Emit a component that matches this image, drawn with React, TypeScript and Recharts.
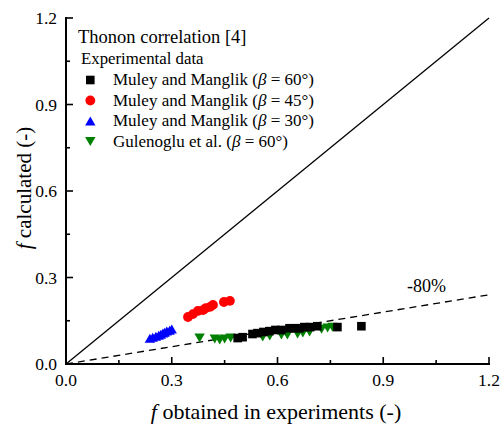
import React from 'react';
import { ScatterChart, Scatter, XAxis, YAxis, ReferenceLine, ReferenceDot } from 'recharts';

const W = 500;
const H = 426;
const FONT = 'Liberation Serif';

// Axis ticks: majors carry labels, minors sit halfway between them
const axisTicks = [0, 0.15, 0.3, 0.45, 0.6, 0.75, 0.9, 1.05, 1.2];
const majorTicks = [0, 0.3, 0.6, 0.9, 1.2];

// Experimental friction factors: f measured (x) vs f from the Thonon correlation (y)
const muley60 = [
  { x: 0.487, y: 0.09 }, { x: 0.501, y: 0.093 }, { x: 0.529, y: 0.104 }, { x: 0.543, y: 0.107 },
  { x: 0.56, y: 0.111 }, { x: 0.577, y: 0.114 }, { x: 0.594, y: 0.118 }, { x: 0.611, y: 0.118 },
  { x: 0.634, y: 0.124 }, { x: 0.651, y: 0.124 }, { x: 0.662, y: 0.124 }, { x: 0.676, y: 0.128 },
  { x: 0.693, y: 0.128 }, { x: 0.713, y: 0.131 }, { x: 0.77, y: 0.128 }, { x: 0.838, y: 0.131 },
];
const muley45 = [
  { x: 0.346, y: 0.163 }, { x: 0.36, y: 0.173 }, { x: 0.374, y: 0.184 }, { x: 0.389, y: 0.187 },
  { x: 0.397, y: 0.194 }, { x: 0.409, y: 0.198 }, { x: 0.417, y: 0.205 }, { x: 0.448, y: 0.215 },
  { x: 0.465, y: 0.219 },
];
const muley30 = [
  { x: 0.238, y: 0.086 }, { x: 0.246, y: 0.09 }, { x: 0.255, y: 0.093 }, { x: 0.263, y: 0.097 },
  { x: 0.269, y: 0.1 }, { x: 0.275, y: 0.104 }, { x: 0.28, y: 0.107 }, { x: 0.286, y: 0.111 },
  { x: 0.294, y: 0.114 }, { x: 0.3, y: 0.118 },
];
const gulenoglu60 = [
  { x: 0.379, y: 0.093 }, { x: 0.422, y: 0.09 }, { x: 0.436, y: 0.086 }, { x: 0.45, y: 0.09 },
  { x: 0.467, y: 0.093 }, { x: 0.558, y: 0.097 }, { x: 0.578, y: 0.1 }, { x: 0.611, y: 0.104 },
  { x: 0.628, y: 0.104 }, { x: 0.657, y: 0.107 }, { x: 0.672, y: 0.111 }, { x: 0.691, y: 0.114 },
  { x: 0.725, y: 0.124 }, { x: 0.742, y: 0.128 }, { x: 0.756, y: 0.131 },
];

// Reference lines: perfect agreement and 80 % under-prediction
const parityLine = [{ x: 0, y: 0 }, { x: 1.2, y: 1.2 }];
const minus80Line = [{ x: 0, y: 0 }, { x: 1.2, y: 0.24 }];
const minus80Label = { x: 1.023, y: 0.273, text: '-80%' };

type Kind = 'square' | 'circle' | 'up' | 'down';

const seriesInfo: { name: string; beta: string; kind: Kind; color: string; data: { x: number; y: number }[] }[] = [
  { name: 'Muley and Manglik', beta: '60', kind: 'square', color: '#000000', data: muley60 },
  { name: 'Muley and Manglik', beta: '45', kind: 'circle', color: '#ff0000', data: muley45 },
  { name: 'Muley and Manglik', beta: '30', kind: 'up', color: '#0000ff', data: muley30 },
  { name: 'Gulenoglu et al.', beta: '60', kind: 'down', color: '#008000', data: gulenoglu60 },
];

function Marker({ cx, cy, kind, color }: { cx: number; cy: number; kind: Kind; color: string }) {
  if (cx == null || cy == null) return null;
  switch (kind) {
    case 'square':
      return <rect x={cx - 4.3} y={cy - 4.3} width={8.6} height={8.6} fill={color} />;
    case 'circle':
      return <circle cx={cx} cy={cy} r={4.9} fill={color} />;
    case 'up':
      return <polygon points={`${cx},${cy - 5.4} ${cx + 5.2},${cy + 3.6} ${cx - 5.2},${cy + 3.6}`} fill={color} />;
    default:
      return <polygon points={`${cx},${cy + 5.4} ${cx + 5.2},${cy - 3.6} ${cx - 5.2},${cy - 3.6}`} fill={color} />;
  }
}

const isMajor = (v: number) => majorTicks.some((m) => Math.abs(m - v) < 1e-6);

function makeTick(side: 'bottom' | 'left' | 'top' | 'right') {
  return (props: any) => {
    const { x, y, payload } = props;
    const v = payload.value as number;
    const major = isMajor(v);
    const len = major ? 7 : 4;
    let line: React.ReactNode = null;
    let label: React.ReactNode = null;
    if (side === 'bottom') {
      line = <line x1={x} y1={y} x2={x} y2={y - len} />;
      if (major)
        label = (
          <text x={x} y={y + 22} textAnchor="middle" fontSize={17.5} fontFamily={FONT} fill="#000">
            {v.toFixed(1)}
          </text>
        );
    } else if (side === 'left') {
      line = <line x1={x} y1={y} x2={x + len} y2={y} />;
      if (major)
        label = (
          <text x={x - 9} y={y + 6} textAnchor="end" fontSize={17.5} fontFamily={FONT} fill="#000">
            {v.toFixed(1)}
          </text>
        );
    } else if (side === 'top') {
      line = <line x1={x} y1={y} x2={x} y2={y + len} />;
    } else {
      line = <line x1={x} y1={y} x2={x - len} y2={y} />;
    }
    return (
      <g stroke="#000" strokeWidth={1.6}>
        {line}
        <g stroke="none">{label}</g>
      </g>
    );
  };
}

const axisLine = { stroke: '#000', strokeWidth: 2, strokeLinecap: 'square' as const };

export default function App() {
  const legendTop = 85;
  const rowGap = 20.5;
  return (
    <div style={{ position: 'absolute', left: 0, top: 0, width: W, height: H, background: '#fff' }}>
      <ScatterChart width={W} height={H} margin={{ top: 18, right: 11, bottom: 0, left: 0 }}>
        <XAxis
          xAxisId="x"
          type="number"
          dataKey="x"
          domain={[0, 1.2]}
          ticks={axisTicks}
          interval={0}
          height={62}
          tickSize={0}
          tickMargin={0}
          axisLine={axisLine}
          tickLine={false}
          tick={makeTick('bottom')}
          allowDataOverflow
        />
        <XAxis
          xAxisId="top"
          orientation="top"
          type="number"
          dataKey="x"
          domain={[0, 1.2]}
          ticks={axisTicks}
          interval={0}
          height={0}
          tickSize={0}
          tickMargin={0}
          axisLine={axisLine}
          tickLine={false}
          tick={makeTick('top')}
          allowDataOverflow
        />
        <YAxis
          yAxisId="y"
          type="number"
          dataKey="y"
          domain={[0, 1.2]}
          ticks={axisTicks}
          interval={0}
          width={66}
          tickSize={0}
          tickMargin={0}
          axisLine={axisLine}
          tickLine={false}
          tick={makeTick('left')}
          allowDataOverflow
        />
        <YAxis
          yAxisId="right"
          orientation="right"
          type="number"
          dataKey="y"
          domain={[0, 1.2]}
          ticks={axisTicks}
          interval={0}
          width={0}
          tickSize={0}
          tickMargin={0}
          axisLine={axisLine}
          tickLine={false}
          tick={makeTick('right')}
          allowDataOverflow
        />
        <ReferenceLine
          xAxisId="x"
          yAxisId="y"
          segment={parityLine}
          stroke="#000"
          strokeWidth={1.3}
          ifOverflow="visible"
        />
        <ReferenceLine
          xAxisId="x"
          yAxisId="y"
          segment={minus80Line}
          stroke="#000"
          strokeWidth={1.3}
          strokeDasharray="7 5"
          ifOverflow="visible"
        />
        <ReferenceDot
          xAxisId="x"
          yAxisId="y"
          x={minus80Label.x}
          y={minus80Label.y}
          r={0}
          fill="none"
          stroke="none"
          label={{ value: minus80Label.text, position: 'center', fontSize: 18, fontFamily: FONT, fill: '#000' }}
        />
        {[1, 2, 3, 0].map((i) => {
          const s = seriesInfo[i];
          return (
            <Scatter
              key={i}
              xAxisId="x"
              yAxisId="y"
              data={s.data}
              isAnimationActive={false}
              shape={(p: any) => <Marker cx={p.cx} cy={p.cy} kind={s.kind} color={s.color} />}
            />
          );
        })}
      </ScatterChart>
      <svg
        width={W}
        height={H}
        style={{ position: 'absolute', left: 0, top: 0, pointerEvents: 'none' }}
      >
        <g fontFamily={FONT} fill="#000">
          <text x={78} y={42.5} fontSize={18.5}>
            Thonon correlation [4]
          </text>
          <text x={81} y={64} fontSize={16.8}>
            Experimental data
          </text>
          {seriesInfo.map((s, i) => {
            const base = legendTop + i * rowGap;
            const my = s.kind === 'up' ? base - 4 : s.kind === 'down' ? base - 6 : base - 5;
            return (
              <g key={i}>
                <Marker cx={90.3} cy={my} kind={s.kind} color={s.color} />
                <text x={113} y={base} fontSize={17}>
                  {s.name} (<tspan fontStyle="italic">β</tspan> = {s.beta}°)
                </text>
              </g>
            );
          })}
          <text x={276} y={419} fontSize={22} textAnchor="middle">
            <tspan fontStyle="italic">f</tspan> obtained in experiments (-)
          </text>
          <text x={31} y={188} fontSize={21} textAnchor="middle" transform="rotate(-90, 31, 188)">
            <tspan fontStyle="italic">f</tspan> calculated (-)
          </text>
        </g>
      </svg>
    </div>
  );
}
